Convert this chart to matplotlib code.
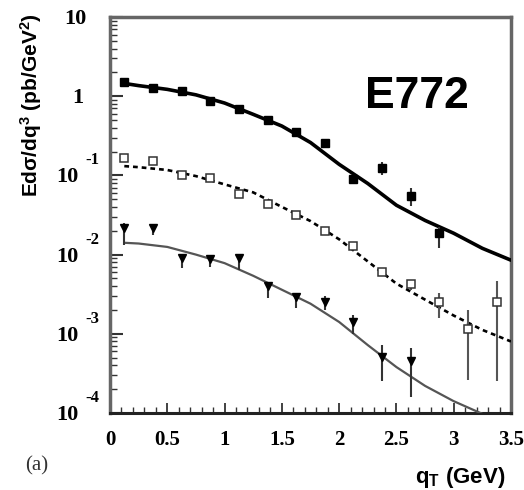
import numpy as np
import matplotlib
matplotlib.use("Agg")
import matplotlib.pyplot as plt
from matplotlib.ticker import FixedLocator, LogLocator, NullFormatter, MultipleLocator

plt.rcParams['mathtext.fontset'] = 'custom'
plt.rcParams['mathtext.rm'] = 'Liberation Sans:bold'
plt.rcParams['mathtext.it'] = 'Liberation Sans:bold'
plt.rcParams['mathtext.bf'] = 'Liberation Sans:bold'
plt.rcParams['mathtext.sf'] = 'Liberation Sans:bold'

# ---------------- data ----------------
# series 1 (filled squares, top)
x1 = [0.125, 0.375, 0.625, 0.875, 1.125, 1.375, 1.625, 1.875, 2.125, 2.375, 2.625, 2.875]
y1 = [1.52, 1.26, 1.17, 0.87, 0.68, 0.50, 0.35, 0.26, 0.089, 0.125, 0.055, 0.019]
e1_lo = [0.05, 0.04, 0.04, 0.03, 0.02, 0.02, 0.015, 0.012, 0.006, 0.024, 0.014, 0.007]
e1_hi = [0.05, 0.04, 0.04, 0.03, 0.02, 0.02, 0.015, 0.012, 0.006, 0.024, 0.014, 0.0034]

# series 2 (open squares, middle)
x2 = [0.125, 0.375, 0.625, 0.875, 1.125, 1.375, 1.625, 1.875, 2.125, 2.375, 2.625, 2.875, 3.125, 3.375]
y2 = [0.164, 0.152, 0.101, 0.092, 0.059, 0.044, 0.032, 0.020, 0.0129, 0.0061, 0.0042, 0.0025, 0.00114, 0.0025]
e2_lo = [0.004, 0.004, 0.003, 0.003, 0.002, 0.0015, 0.001, 0.0008, 0.0006, 0.0004, 0.0006, 0.0009, 0.00088, 0.00225]
e2_hi = [0.004, 0.004, 0.003, 0.003, 0.002, 0.0015, 0.001, 0.0008, 0.0006, 0.0004, 0.0006, 0.0008, 0.00086, 0.0022]

# series 3 (filled down triangles, bottom)
x3 = [0.125, 0.375, 0.625, 0.875, 1.125, 1.375, 1.625, 1.875, 2.125, 2.375, 2.625]
y3 = [0.0215, 0.0215, 0.0090, 0.0088, 0.0090, 0.0040, 0.0029, 0.0025, 0.0014, 0.00051, 0.00045]
e3_lo = [0.0083, 0.004, 0.0022, 0.0018, 0.0026, 0.0012, 0.0008, 0.0005, 0.0004, 0.00026, 0.00029]
e3_hi = [0.0035, 0.0025, 0.0009, 0.0011, 0.0009, 0.0004, 0.0004, 0.0005, 0.00034, 0.00021, 0.00021]

# theory curves
xc = [0.125, 0.25, 0.5, 0.75, 1.0, 1.25, 1.5, 1.75, 2.0, 2.25, 2.5, 2.75, 3.0, 3.25, 3.5]
c1 = [1.45, 1.36, 1.22, 1.04, 0.82, 0.59, 0.42, 0.26, 0.138, 0.079, 0.042, 0.027, 0.0186, 0.012, 0.0085]
c2 = [0.131, 0.127, 0.117, 0.098, 0.077, 0.061, 0.040, 0.0265, 0.0156, 0.0082, 0.0043, 0.0027, 0.0017, 0.00112, 0.0008]
c3 = [0.0141, 0.0138, 0.0125, 0.0100, 0.0078, 0.0054, 0.0036, 0.0024, 0.00141, 0.00072, 0.00038, 0.00022, 0.000141, 0.0000975, 0.00007]

x_ticks = [0, 0.5, 1, 1.5, 2, 2.5, 3, 3.5]
x_ticklabels = ['0', '0.5', '1', '1.5', '2', '2.5', '3', '3.5']
y_decades = [1, 0, -1, -2, -3, -4]

# ---------------- figure ----------------
W, H = 524, 490
fig = plt.figure(figsize=(W / 100, H / 100), dpi=100)
L, R, T, B = 110, 511, 17, 413
ax = fig.add_axes([L / W, 1 - B / H, (R - L) / W, (B - T) / H])

ax.set_yscale('log')
ax.set_xlim(0, 3.5)
ax.set_ylim(1e-4, 10)

# curves
ax.plot(xc, c1, color='black', lw=2.6, solid_capstyle='round', zorder=3)
ax.plot(xc, c2, color='black', lw=1.9, linestyle=(0, (1.8, 1.5)), zorder=3)
ax.plot(xc, c3, color='#555555', lw=1.6, zorder=3)

# data
ax.errorbar(x1, y1, yerr=[e1_lo, e1_hi], fmt='s', color='black', ms=6,
            ecolor='#333333', elinewidth=1.5, capsize=0, zorder=4)
ax.errorbar(x2, y2, yerr=[e2_lo, e2_hi], fmt='s', mfc='white', mec='#333333',
            mew=1.1, ms=6, ecolor='#555555', elinewidth=1.5, capsize=0, zorder=4)
ax.errorbar(x3, y3, yerr=[e3_lo, e3_hi], fmt='v', color='black', ms=6,
            ecolor='#333333', elinewidth=1.5, capsize=0, zorder=4)

# spines
for s in ['left', 'top', 'right']:
    ax.spines[s].set_color('#666666')
    ax.spines[s].set_linewidth(2.5)
ax.spines['bottom'].set_color('#222222')
ax.spines['bottom'].set_linewidth(2.2)

# ticks
ax.xaxis.set_major_locator(FixedLocator(x_ticks))
ax.xaxis.set_minor_locator(MultipleLocator(0.1))
ax.set_xticklabels(x_ticklabels, fontfamily='Liberation Serif', fontweight='bold', fontsize=15)
ax.yaxis.set_major_locator(FixedLocator([10.0 ** k for k in y_decades]))
ax.yaxis.set_minor_locator(LogLocator(base=10, subs=np.arange(2, 10)))
ax.yaxis.set_minor_formatter(NullFormatter())
ax.tick_params(axis='both', which='both', direction='in', top=False, right=False, color='#333333')
ax.tick_params(axis='y', which='major', length=9, width=1.5, labelleft=False)
ax.tick_params(axis='y', which='minor', length=5, width=1.0)
ax.tick_params(axis='x', which='major', length=7, width=1.3, pad=12)
ax.tick_params(axis='x', which='minor', length=4, width=1.0)

# y tick labels: "10" with exponent
ytr = ax.get_yaxis_transform()
px2pt = 0.72
for k in y_decades:
    yv = 10.0 ** k
    if k == 1:
        ax.annotate('10', xy=(0, yv), xycoords=ytr, xytext=(-(L - 86) * px2pt, -2 * px2pt),
                    textcoords='offset points', ha='right', va='center',
                    fontfamily='Liberation Serif', fontweight='bold', fontsize=16)
    elif k == 0:
        ax.annotate('1', xy=(0, yv), xycoords=ytr, xytext=(-(L - 83) * px2pt, -2 * px2pt),
                    textcoords='offset points', ha='right', va='center',
                    fontfamily='Liberation Serif', fontweight='bold', fontsize=16)
    else:
        ax.annotate('10', xy=(0, yv), xycoords=ytr, xytext=(-(L - 78) * px2pt, -2 * px2pt),
                    textcoords='offset points', ha='right', va='center',
                    fontfamily='Liberation Serif', fontweight='bold', fontsize=16)
        ax.annotate(str(k), xy=(0, yv), xycoords=ytr, xytext=(-(L - 85) * px2pt, 15 * px2pt),
                    textcoords='offset points', ha='left', va='center',
                    fontfamily='Liberation Serif', fontweight='bold', fontsize=12)

# annotations
ax.text(0.766, 0.798, 'E772', transform=ax.transAxes, ha='center', va='center',
        fontfamily='Liberation Sans', fontweight='bold', fontsize=32)

fig.text(31 / W, 1 - 105 / H, r'Ed$\sigma$/dq$^{3}$ (pb/GeV$^{2}$)', rotation=90,
         ha='center', va='center', fontfamily='Liberation Sans', fontweight='bold', fontsize=15)
fig.text(460 / W, 1 - 477 / H, r'q$_{\mathregular{T}}$ (GeV)', ha='center', va='center',
         fontfamily='Liberation Sans', fontweight='bold', fontsize=16)
fig.text(37 / W, 1 - 466 / H, '(a)', ha='center', va='center',
         fontfamily='Liberation Serif', fontsize=15, color='#333333')

fig.savefig('out.png', dpi=100)
